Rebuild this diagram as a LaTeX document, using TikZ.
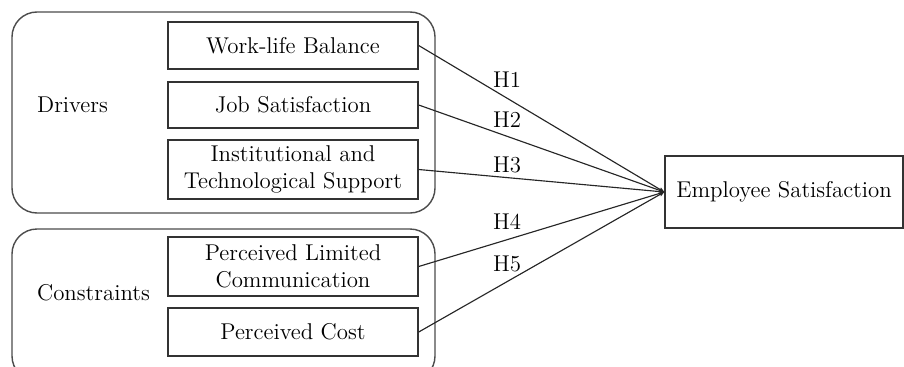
\documentclass[tikz,border=0pt]{standalone}
\usetikzlibrary{arrows.meta}

\begin{document}
\begin{tikzpicture}[
    every node/.style={font=\fontsize{13}{15.5}\selectfont},
    varbox/.style={draw=black!80, line width=0.8pt, minimum width=5cm, align=center, inner sep=1pt},
    groupbox/.style={draw=black!70, line width=0.8pt, rounded corners=0.5cm},
    hyp/.style={draw=black!85, line width=0.65pt, -{Stealth[length=3pt,width=2.5pt]}}
  ]
    \useasboundingbox (0,0) rectangle (18.08,7.32);
    \clip (0,0) rectangle (18.08,7.32);
    \draw[groupbox] (0.24,3.06) rectangle (8.70,7.08);
    \draw[groupbox] (0.24,-0.3) rectangle (8.70,2.74);
    \node (drivers) at (1.45,5.22) {Drivers};
    \node (constraints) at (1.87,1.46) {Constraints};
    \node[varbox, minimum height=0.94cm] (wlb) at (5.86,6.41) {Work-life Balance};
    \node[varbox, minimum height=0.92cm] (js) at (5.86,5.22) {Job Satisfaction};
    \node[varbox, minimum height=1.18cm] (its) at (5.86,3.93) {Institutional and\\Technological Support};
    \node[varbox, minimum height=1.18cm] (plc) at (5.86,1.99) {Perceived Limited\\Communication};
    \node[varbox, minimum height=0.96cm] (pc) at (5.86,0.68) {Perceived Cost};
    \node[varbox, minimum width=4.76cm, minimum height=1.44cm] (es) at (15.68,3.48) {Employee Satisfaction};
    \draw[hyp] (wlb.east) -- (es.west) node[pos=0.36, above=2.5pt] {H1};
    \draw[hyp] (js.east) -- (es.west) node[pos=0.36, above=1.5pt] {H2};
    \draw[hyp] (its.east) -- (es.west) node[pos=0.36, above=-1pt] {H3};
    \draw[hyp] (plc.east) -- (es.west) node[pos=0.36, above=2pt] {H4};
    \draw[hyp] (pc.east) -- (es.west) node[pos=0.36, above=2pt] {H5};
\end{tikzpicture}
\end{document}
